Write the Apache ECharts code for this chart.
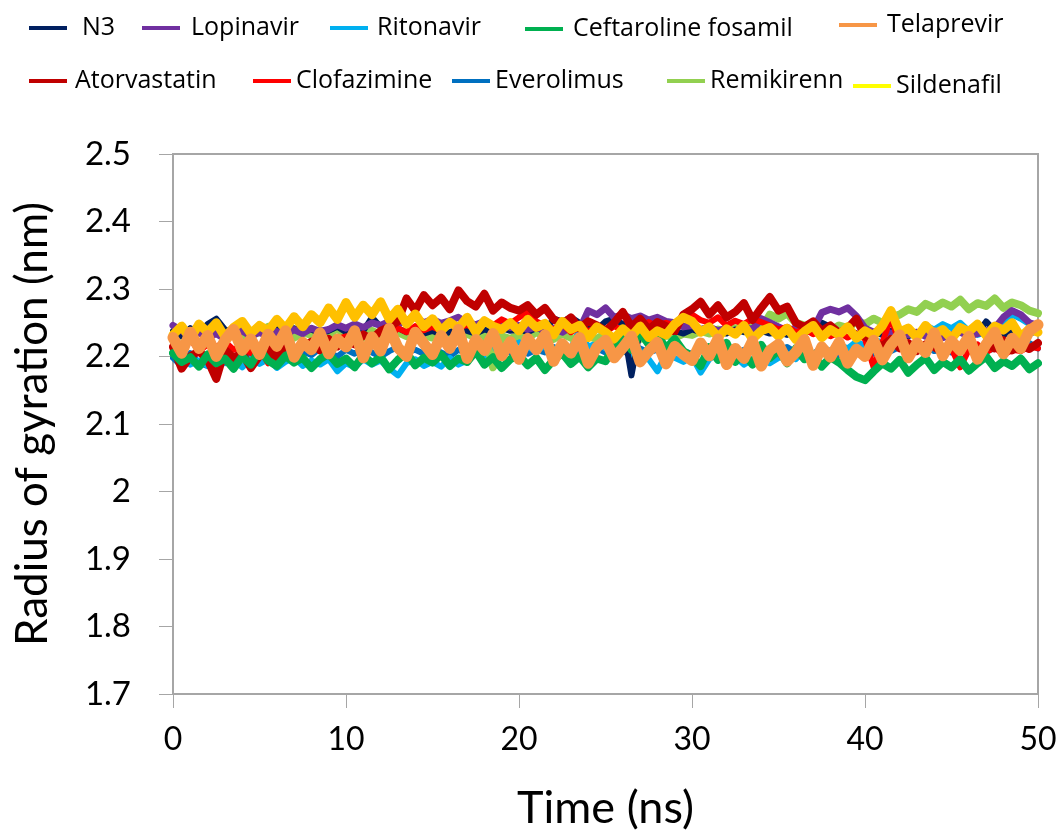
<!DOCTYPE html>
<html>
<head>
<meta charset="utf-8">
<script src="https://cdn.jsdelivr.net/npm/echarts@6/dist/echarts.min.js"></script>
<style>
  html, body { margin: 0; padding: 0; background: #fff; }
  #chart { width: 1064px; height: 836px; }
</style>
</head>
<body>
<div id="chart"></div>
<script>
// time axis (ns), one sample every 0.5 ns
const timeNs = [
  0, 0.5, 1, 1.5, 2, 2.5, 3, 3.5, 4, 4.5,
  5, 5.5, 6, 6.5, 7, 7.5, 8, 8.5, 9, 9.5,
  10, 10.5, 11, 11.5, 12, 12.5, 13, 13.5, 14, 14.5,
  15, 15.5, 16, 16.5, 17, 17.5, 18, 18.5, 19, 19.5,
  20, 20.5, 21, 21.5, 22, 22.5, 23, 23.5, 24, 24.5,
  25, 25.5, 26, 26.5, 27, 27.5, 28, 28.5, 29, 29.5,
  30, 30.5, 31, 31.5, 32, 32.5, 33, 33.5, 34, 34.5,
  35, 35.5, 36, 36.5, 37, 37.5, 38, 38.5, 39, 39.5,
  40, 40.5, 41, 41.5, 42, 42.5, 43, 43.5, 44, 44.5,
  45, 45.5, 46, 46.5, 47, 47.5, 48, 48.5, 49, 49.5,
  50
]

// radius of gyration (nm)
const n3 = [
  2.238, 2.230, 2.242, 2.235, 2.248, 2.256, 2.240, 2.234, 2.242, 2.236,
  2.240, 2.232, 2.246, 2.238, 2.242, 2.236, 2.240, 2.234, 2.238, 2.244,
  2.236, 2.242, 2.238, 2.258, 2.244, 2.238, 2.242, 2.236, 2.240, 2.234,
  2.238, 2.232, 2.236, 2.242, 2.238, 2.234, 2.240, 2.236, 2.242, 2.238,
  2.240, 2.236, 2.242, 2.238, 2.256, 2.252, 2.258, 2.250, 2.244, 2.240,
  2.252, 2.256, 2.248, 2.172, 2.240, 2.246, 2.252, 2.244, 2.238, 2.234,
  2.240, 2.236, 2.242, 2.238, 2.234, 2.240, 2.236, 2.242, 2.238, 2.234,
  2.236, 2.232, 2.238, 2.234, 2.240, 2.250, 2.244, 2.236, 2.240, 2.234,
  2.230, 2.236, 2.232, 2.238, 2.234, 2.230, 2.236, 2.232, 2.238, 2.234,
  2.230, 2.236, 2.240, 2.234, 2.252, 2.238, 2.232, 2.236, 2.230, 2.234,
  2.238
]
const lopinavir = [
  2.246, 2.238, 2.230, 2.236, 2.228, 2.234, 2.226, 2.232, 2.238, 2.230,
  2.236, 2.229, 2.237, 2.232, 2.240, 2.234, 2.242, 2.237, 2.240, 2.247,
  2.242, 2.248, 2.243, 2.250, 2.246, 2.252, 2.248, 2.254, 2.258, 2.250,
  2.255, 2.249, 2.253, 2.258, 2.250, 2.247, 2.252, 2.245, 2.249, 2.243,
  2.246, 2.240, 2.244, 2.238, 2.242, 2.236, 2.244, 2.240, 2.268, 2.262,
  2.272, 2.258, 2.262, 2.256, 2.260, 2.254, 2.258, 2.252, 2.250, 2.244,
  2.246, 2.240, 2.244, 2.238, 2.242, 2.236, 2.244, 2.240, 2.256, 2.250,
  2.244, 2.238, 2.242, 2.236, 2.240, 2.265, 2.270, 2.266, 2.272, 2.260,
  2.242, 2.236, 2.240, 2.234, 2.238, 2.232, 2.236, 2.230, 2.234, 2.228,
  2.232, 2.236, 2.230, 2.234, 2.238, 2.242, 2.258, 2.268, 2.262, 2.250,
  2.246
]
const ritonavir = [
  2.232, 2.200, 2.188, 2.194, 2.186, 2.198, 2.190, 2.195, 2.184, 2.197,
  2.189, 2.196, 2.183, 2.192, 2.199, 2.186, 2.194, 2.188, 2.196, 2.178,
  2.190, 2.184, 2.196, 2.188, 2.194, 2.182, 2.172, 2.190, 2.196, 2.186,
  2.192, 2.185, 2.198, 2.188, 2.194, 2.206, 2.198, 2.210, 2.204, 2.216,
  2.222, 2.214, 2.208, 2.216, 2.210, 2.218, 2.212, 2.240, 2.214, 2.220,
  2.212, 2.206, 2.214, 2.200, 2.208, 2.196, 2.178, 2.204, 2.198, 2.192,
  2.200, 2.176, 2.196, 2.204, 2.192, 2.200, 2.188, 2.196, 2.202, 2.190,
  2.198, 2.204, 2.196, 2.210, 2.202, 2.214, 2.208, 2.218, 2.212, 2.222,
  2.216, 2.226, 2.220, 2.230, 2.224, 2.234, 2.228, 2.246, 2.240, 2.248,
  2.242, 2.250, 2.238, 2.232, 2.236, 2.230, 2.244, 2.262, 2.256, 2.248,
  2.240
]
const ceftaroline = [
  2.205, 2.192, 2.199, 2.185, 2.203, 2.190, 2.197, 2.182, 2.200, 2.188,
  2.210, 2.194, 2.186, 2.201, 2.191, 2.198, 2.183, 2.196, 2.204, 2.189,
  2.197, 2.184, 2.202, 2.190, 2.199, 2.181, 2.195, 2.206, 2.187, 2.198,
  2.191, 2.203, 2.186, 2.197, 2.192, 2.208, 2.188, 2.199, 2.183, 2.196,
  2.202, 2.187, 2.198, 2.180, 2.195, 2.205, 2.189, 2.200, 2.184, 2.197,
  2.193, 2.215, 2.228, 2.210, 2.236, 2.218, 2.232, 2.212, 2.226, 2.208,
  2.200, 2.186, 2.214, 2.195, 2.220, 2.192, 2.205, 2.188, 2.217, 2.198,
  2.209, 2.190, 2.212, 2.196, 2.203, 2.185, 2.199, 2.191, 2.180, 2.170,
  2.165, 2.178, 2.190, 2.182, 2.195, 2.176, 2.188, 2.198, 2.180, 2.192,
  2.184, 2.196, 2.179, 2.190, 2.200, 2.183, 2.193, 2.186, 2.197, 2.181,
  2.190
]
const telaprevir = [
  2.228, 2.205, 2.236, 2.212, 2.231, 2.200, 2.224, 2.240, 2.209, 2.226,
  2.203, 2.233, 2.215, 2.238, 2.199, 2.221, 2.210, 2.235, 2.204, 2.226,
  2.214, 2.238, 2.198, 2.229, 2.208, 2.242, 2.213, 2.200, 2.236, 2.219,
  2.203, 2.231, 2.212, 2.240, 2.197, 2.225, 2.209, 2.234, 2.201, 2.222,
  2.196, 2.227, 2.210, 2.232, 2.193, 2.219, 2.205, 2.228, 2.190, 2.214,
  2.224, 2.198, 2.213, 2.230, 2.192, 2.208, 2.221, 2.189, 2.215, 2.203,
  2.194, 2.220, 2.201, 2.226, 2.188, 2.212, 2.197, 2.223, 2.186, 2.209,
  2.218, 2.193, 2.206, 2.225, 2.187, 2.214, 2.199, 2.221, 2.190, 2.211,
  2.200, 2.224, 2.195, 2.217, 2.232, 2.198, 2.220, 2.206, 2.235, 2.201,
  2.223, 2.209, 2.230, 2.196, 2.218, 2.236, 2.204, 2.227, 2.212, 2.238,
  2.247
]
const atorvastatin = [
  2.214, 2.182, 2.200, 2.208, 2.195, 2.167, 2.210, 2.198, 2.205, 2.183,
  2.201, 2.212, 2.196, 2.219, 2.205, 2.214, 2.222, 2.209, 2.226, 2.215,
  2.224, 2.218, 2.232, 2.226, 2.238, 2.244, 2.252, 2.286, 2.268, 2.291,
  2.276, 2.287, 2.270, 2.298, 2.282, 2.274, 2.293, 2.268, 2.280, 2.272,
  2.268, 2.276, 2.262, 2.272, 2.255, 2.248, 2.258, 2.242, 2.252, 2.246,
  2.238, 2.250, 2.266, 2.244, 2.256, 2.240, 2.251, 2.245, 2.237, 2.262,
  2.270, 2.281, 2.262, 2.276, 2.258, 2.266, 2.279, 2.254, 2.272, 2.288,
  2.268, 2.274, 2.250, 2.244, 2.252, 2.238, 2.246, 2.235, 2.242, 2.256,
  2.230, 2.222, 2.215, 2.226, 2.212, 2.220, 2.208, 2.218, 2.214, 2.206,
  2.216, 2.210, 2.222, 2.205, 2.219, 2.212, 2.224, 2.209, 2.217, 2.211,
  2.220
]
const clofazimine = [
  2.220, 2.212, 2.226, 2.208, 2.218, 2.214, 2.222, 2.210, 2.216, 2.205,
  2.212, 2.190, 2.215, 2.221, 2.209, 2.224, 2.217, 2.228, 2.213, 2.226,
  2.230, 2.219, 2.234, 2.225, 2.238, 2.229, 2.242, 2.236, 2.245, 2.239,
  2.244, 2.238, 2.250, 2.242, 2.247, 2.240, 2.252, 2.246, 2.255, 2.249,
  2.258, 2.266, 2.252, 2.246, 2.240, 2.248, 2.236, 2.244, 2.238, 2.242,
  2.236, 2.245, 2.239, 2.248, 2.242, 2.251, 2.244, 2.250, 2.246, 2.256,
  2.262, 2.254, 2.250, 2.258, 2.246, 2.253, 2.248, 2.256, 2.251, 2.246,
  2.240, 2.244, 2.236, 2.241, 2.233, 2.238, 2.230, 2.236, 2.228, 2.234,
  2.226, 2.184, 2.220, 2.258, 2.218, 2.212, 2.222, 2.208, 2.216, 2.204,
  2.212, 2.184, 2.210, 2.218, 2.206, 2.214, 2.202, 2.210, 2.208, 2.215,
  2.212
]
const everolimus = [
  2.198, 2.186, 2.205, 2.190, 2.186, 2.200, 2.208, 2.196, 2.204, 2.198,
  2.206, 2.200, 2.210, 2.204, 2.198, 2.208, 2.202, 2.212, 2.206, 2.200,
  2.210, 2.204, 2.212, 2.206, 2.200, 2.208, 2.214, 2.206, 2.210, 2.204,
  2.212, 2.206, 2.200, 2.210, 2.204, 2.214, 2.208, 2.202, 2.210, 2.206,
  2.212, 2.204, 2.210, 2.206, 2.214, 2.208, 2.202, 2.210, 2.206, 2.212,
  2.206, 2.214, 2.208, 2.202, 2.212, 2.206, 2.210, 2.204, 2.212, 2.208,
  2.204, 2.210, 2.206, 2.212, 2.208, 2.202, 2.210, 2.206, 2.212, 2.204,
  2.208, 2.214, 2.206, 2.210, 2.204, 2.212, 2.208, 2.202, 2.210, 2.206,
  2.210, 2.204, 2.212, 2.208, 2.214, 2.206, 2.210, 2.216, 2.208, 2.212,
  2.206, 2.214, 2.210, 2.216, 2.208, 2.212, 2.218, 2.210, 2.214, 2.220,
  2.212
]
const remikirenn = [
  2.226, 2.232, 2.228, 2.236, 2.230, 2.242, 2.238, 2.234, 2.228, 2.232,
  2.236, 2.244, 2.230, 2.234, 2.228, 2.236, 2.232, 2.238, 2.230, 2.244,
  2.226, 2.234, 2.228, 2.238, 2.232, 2.226, 2.236, 2.230, 2.238, 2.232,
  2.228, 2.236, 2.230, 2.226, 2.234, 2.228, 2.236, 2.184, 2.230, 2.226,
  2.232, 2.228, 2.236, 2.230, 2.226, 2.234, 2.228, 2.222, 2.230, 2.226,
  2.234, 2.228, 2.224, 2.232, 2.226, 2.230, 2.224, 2.232, 2.228, 2.234,
  2.232, 2.238, 2.234, 2.240, 2.236, 2.242, 2.238, 2.244, 2.240, 2.262,
  2.256, 2.264, 2.250, 2.246, 2.240, 2.244, 2.238, 2.246, 2.242, 2.252,
  2.248, 2.256, 2.250, 2.258, 2.262, 2.270, 2.266, 2.278, 2.272, 2.280,
  2.274, 2.284, 2.270, 2.279, 2.275, 2.286, 2.272, 2.280, 2.276, 2.268,
  2.264
]
const sildenafil = [
  2.232, 2.245, 2.226, 2.248, 2.236, 2.250, 2.229, 2.243, 2.252, 2.234,
  2.246, 2.238, 2.255, 2.241, 2.259, 2.244, 2.262, 2.250, 2.272, 2.255,
  2.280, 2.258, 2.276, 2.262, 2.281, 2.255, 2.270, 2.248, 2.263, 2.244,
  2.256, 2.238, 2.251, 2.242, 2.258, 2.236, 2.253, 2.245, 2.240, 2.250,
  2.238, 2.255, 2.243, 2.249, 2.232, 2.252, 2.240, 2.246, 2.228, 2.244,
  2.236, 2.226, 2.241, 2.230, 2.245, 2.228, 2.238, 2.232, 2.248, 2.258,
  2.252, 2.236, 2.244, 2.229, 2.241, 2.233, 2.246, 2.226, 2.238, 2.243,
  2.230, 2.242, 2.225, 2.237, 2.246, 2.228, 2.240, 2.232, 2.244, 2.227,
  2.238, 2.231, 2.245, 2.268, 2.236, 2.242, 2.228, 2.246, 2.233, 2.240,
  2.226, 2.243, 2.237, 2.248, 2.231, 2.245, 2.239, 2.250, 2.229, 2.241,
  2.236
]

// drawn first to last, so the orange band ends up on top
const seriesList = [
  { name: 'Everolimus', data: everolimus, color: '#0070c0', width: 6 },
  { name: 'Ritonavir', data: ritonavir, color: '#00b0f0', width: 6 },
  { name: 'Remikirenn', data: remikirenn, color: '#92d050', width: 8 },
  { name: 'N3', data: n3, color: '#002060', width: 6 },
  { name: 'Lopinavir', data: lopinavir, color: '#7030a0', width: 7 },
  { name: 'Clofazimine', data: clofazimine, color: '#ff0000', width: 6 },
  { name: 'Atorvastatin', data: atorvastatin, color: '#c00000', width: 8 },
  { name: 'Ceftaroline fosamil', data: ceftaroline, color: '#00b050', width: 8 },
  { name: 'Sildenafil', data: sildenafil, color: '#ffc000', width: 9 },
  { name: 'Telaprevir', data: telaprevir, color: '#f79646', width: 11 }
]

// legend entries are scattered like in the original, so one legend per entry
const legendSpots = [
  { name: 'N3', left: 29, top: 13, gap: 10, color: '#002060' },
  { name: 'Lopinavir', left: 142, top: 13, gap: 6, color: '#7030a0' },
  { name: 'Ritonavir', left: 330, top: 13, gap: 4, color: '#00b0f0' },
  { name: 'Ceftaroline fosamil', left: 525, top: 14, gap: 5, color: '#00b050' },
  { name: 'Telaprevir', left: 839, top: 10, gap: 5, color: '#f79646' },
  { name: 'Atorvastatin', left: 29, top: 66, gap: 3, color: '#c00000' },
  { name: 'Clofazimine', left: 253, top: 66, gap: 0, color: '#ff0000' },
  { name: 'Everolimus', left: 452, top: 66, gap: 0, color: '#0070c0' },
  { name: 'Remikirenn', left: 667, top: 66, gap: 0, color: '#92d050' },
  { name: 'Sildenafil', left: 853, top: 71, gap: 0, color: '#ffff00' }
]

let chart = echarts.init(document.getElementById('chart'))

let legends = legendSpots.map(l => ({
  left: l.left,
  top: l.top,
  padding: 0,
  icon: 'rect',
  itemWidth: 38,
  itemHeight: 4,
  selectedMode: false,
  data: [{ name: l.name, itemStyle: { color: l.color } }],
  textStyle: {
    fontFamily: 'Open Sans',
    fontSize: 25,
    color: '#000',
    lineHeight: 30,
    padding: [0, 0, 0, l.gap]
  }
}))

let series = seriesList.map(s => ({
  name: s.name,
  type: 'line',
  symbol: 'none',
  showSymbol: false,
  data: timeNs.map((t, i) => [t, s.data[i]]),
  itemStyle: { color: s.color },
  lineStyle: { color: s.color, width: s.width, join: 'round', cap: 'round' },
  emphasis: { disabled: true }
}))

chart.setOption({
  animation: false,
  backgroundColor: '#fff',
  legend: legends,
  grid: {
    left: 173,
    right: 26,
    top: 154,
    bottom: 140,
    show: true,
    borderColor: '#a6a6a6',
    borderWidth: 2,
    backgroundColor: 'transparent'
  },
  xAxis: {
    type: 'value',
    min: 0,
    max: 50,
    interval: 10,
    name: 'Time (ns)',
    nameLocation: 'middle',
    nameGap: 92,
    nameTextStyle: { fontFamily: 'Lato', fontSize: 45, color: '#000' },
    axisLine: { onZero: false, lineStyle: { color: '#a6a6a6', width: 2 } },
    axisTick: { inside: false, length: 14, lineStyle: { color: '#a6a6a6', width: 1 } },
    axisLabel: { fontFamily: 'Lato', fontSize: 32, color: '#000', margin: 30 },
    splitLine: { show: false }
  },
  yAxis: {
    type: 'value',
    min: 1.7,
    max: 2.5,
    interval: 0.1,
    name: 'Radius of gyration (nm)',
    nameLocation: 'middle',
    nameGap: 118,
    nameTextStyle: { fontFamily: 'Lato', fontSize: 44, color: '#000' },
    axisLine: { onZero: false, lineStyle: { color: '#a6a6a6', width: 2 } },
    axisTick: { inside: false, length: 14, lineStyle: { color: '#a6a6a6', width: 1 } },
    axisLabel: { fontFamily: 'Lato', fontSize: 33, color: '#000', margin: 42 },
    splitLine: { show: false }
  },
  series: series
})
</script>
</body>
</html>
